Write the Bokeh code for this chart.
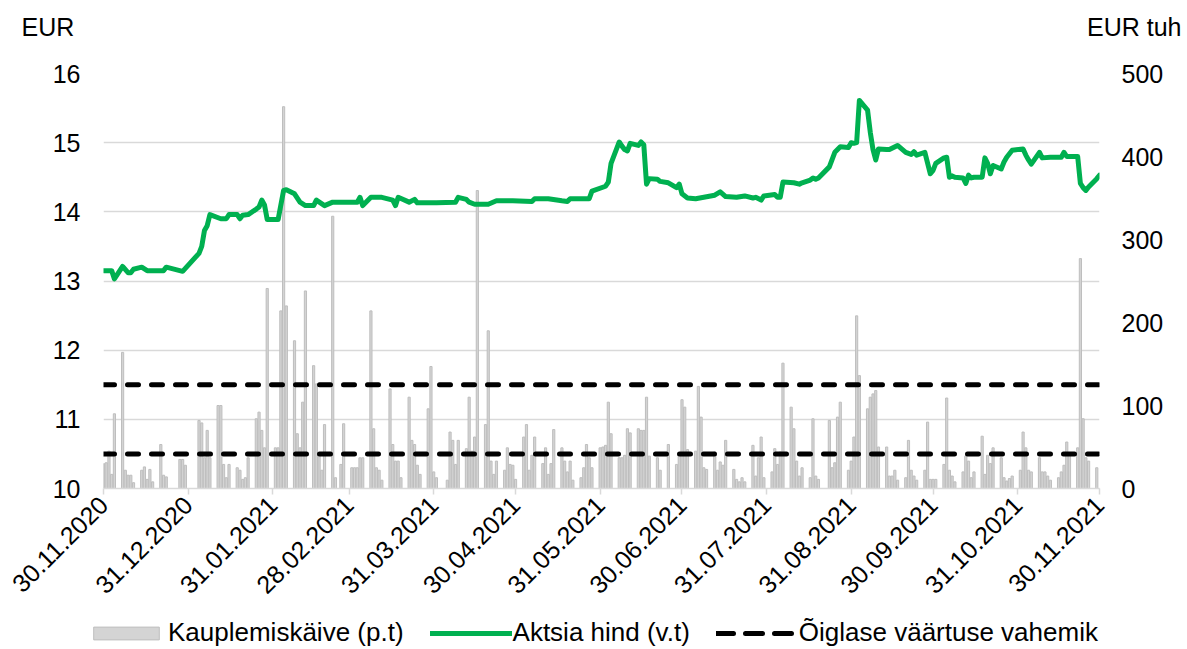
import math
import pandas as pd
from bokeh.plotting import figure
from bokeh.layouts import column
from bokeh.models import (Range1d, LinearAxis, FixedTicker, DatetimeTickFormatter,
                          Legend, LegendItem, Label, ColumnDataSource, Plot)
from bokeh.embed import file_html
from bokeh.resources import INLINE

# ---------------- data ----------------
tick_labels = ["30.11.2020", "31.12.2020", "31.01.2021", "28.02.2021", "31.03.2021",
               "30.04.2021", "31.05.2021", "30.06.2021", "31.07.2021", "31.08.2021",
               "30.09.2021", "31.10.2021", "30.11.2021"]
left_ticks = [10, 11, 12, 13, 14, 15, 16]
right_ticks = [0, 100, 200, 300, 400, 500]
left_unit = "EUR"
right_unit = "EUR tuh"
series_names = ["Kauplemiskäive (p.t)", "Aktsia hind (v.t)", "Õiglase väärtuse vahemik"]

fair_value_low = 10.5
fair_value_high = 11.5

price_dates = [
    "2020-11-30", "2020-12-03", "2020-12-04", "2020-12-07", "2020-12-09", "2020-12-10",
    "2020-12-11", "2020-12-14", "2020-12-16", "2020-12-22", "2020-12-23", "2020-12-29",
    "2021-01-04", "2021-01-05", "2021-01-06", "2021-01-07", "2021-01-08", "2021-01-12",
    "2021-01-14", "2021-01-15", "2021-01-18", "2021-01-19", "2021-01-20", "2021-01-22",
    "2021-01-25", "2021-01-26", "2021-01-27", "2021-01-28", "2021-01-29", "2021-02-02",
    "2021-02-04", "2021-02-05", "2021-02-08", "2021-02-10", "2021-02-12", "2021-02-15",
    "2021-02-16", "2021-02-19", "2021-02-22", "2021-03-03", "2021-03-04", "2021-03-05",
    "2021-03-08", "2021-03-12", "2021-03-16", "2021-03-17", "2021-03-18", "2021-03-22",
    "2021-03-24", "2021-03-25", "2021-04-01", "2021-04-08", "2021-04-09", "2021-04-12",
    "2021-04-13", "2021-04-15", "2021-04-20", "2021-04-23", "2021-04-29", "2021-05-06",
    "2021-05-07", "2021-05-12", "2021-05-17", "2021-05-19", "2021-05-20", "2021-05-27",
    "2021-05-28", "2021-06-02", "2021-06-03", "2021-06-04", "2021-06-07", "2021-06-08",
    "2021-06-09", "2021-06-10", "2021-06-11", "2021-06-14", "2021-06-15", "2021-06-16",
    "2021-06-17", "2021-06-18", "2021-06-21", "2021-06-22", "2021-06-25", "2021-06-28",
    "2021-06-29", "2021-06-30", "2021-07-02", "2021-07-05", "2021-07-08", "2021-07-12",
    "2021-07-14", "2021-07-16", "2021-07-20", "2021-07-23", "2021-07-26", "2021-07-27",
    "2021-07-29", "2021-07-30", "2021-08-03", "2021-08-04", "2021-08-05", "2021-08-06",
    "2021-08-10", "2021-08-12", "2021-08-13", "2021-08-16", "2021-08-17", "2021-08-18",
    "2021-08-19", "2021-08-23", "2021-08-25", "2021-08-26", "2021-08-27", "2021-08-30",
    "2021-08-31", "2021-09-01", "2021-09-02", "2021-09-03", "2021-09-06", "2021-09-07",
    "2021-09-08", "2021-09-09", "2021-09-10", "2021-09-13", "2021-09-14", "2021-09-17",
    "2021-09-20", "2021-09-22", "2021-09-23", "2021-09-24", "2021-09-27", "2021-09-29",
    "2021-09-30", "2021-10-01", "2021-10-04", "2021-10-05", "2021-10-06", "2021-10-07",
    "2021-10-08", "2021-10-11", "2021-10-12", "2021-10-13", "2021-10-14", "2021-10-15",
    "2021-10-18", "2021-10-19", "2021-10-20", "2021-10-21", "2021-10-22", "2021-10-25",
    "2021-10-26", "2021-10-27", "2021-10-29", "2021-11-02", "2021-11-03", "2021-11-04",
    "2021-11-05", "2021-11-08", "2021-11-09", "2021-11-12", "2021-11-15", "2021-11-16",
    "2021-11-17", "2021-11-18", "2021-11-22", "2021-11-23", "2021-11-24", "2021-11-25",
    "2021-11-26", "2021-11-29", "2021-11-30",
]
price_values = [
    13.15, 13.15, 13.03, 13.21, 13.12, 13.12,
    13.17, 13.20, 13.15, 13.15, 13.20, 13.14,
    13.40, 13.50, 13.73, 13.80, 13.96, 13.90,
    13.90, 13.96, 13.96, 13.90, 13.95, 13.96,
    14.04, 14.07, 14.17, 14.10, 13.89, 13.89,
    14.31, 14.32, 14.26, 14.14, 14.09, 14.09,
    14.17, 14.09, 14.14, 14.14, 14.21, 14.09,
    14.21, 14.21, 14.17, 14.09, 14.21, 14.14,
    14.18, 14.13, 14.13, 14.14, 14.21, 14.18,
    14.14, 14.11, 14.11, 14.16, 14.16, 14.15,
    14.19, 14.19, 14.16, 14.15, 14.19, 14.19,
    14.30, 14.37, 14.43, 14.70, 15.01, 14.95,
    14.90, 14.88, 14.99, 14.96, 15.01, 14.97,
    14.40, 14.48, 14.47, 14.44, 14.42, 14.35,
    14.40, 14.26, 14.20, 14.19, 14.21, 14.24,
    14.29, 14.22, 14.21, 14.23, 14.20, 14.21,
    14.17, 14.23, 14.25, 14.21, 14.21, 14.43,
    14.42, 14.40, 14.42, 14.46, 14.49, 14.47,
    14.49, 14.65, 14.86, 14.90, 14.94, 14.93,
    15.00, 14.99, 15.00, 15.61, 15.47, 15.15,
    14.90, 14.75, 14.91, 14.90, 14.90, 14.96,
    14.86, 14.83, 14.87, 14.82, 14.86, 14.55,
    14.60, 14.70, 14.78, 14.79, 14.50, 14.52,
    14.50, 14.49, 14.41, 14.53, 14.49, 14.50,
    14.50, 14.78, 14.70, 14.55, 14.67, 14.62,
    14.72, 14.79, 14.89, 14.91, 14.82, 14.75,
    14.69, 14.86, 14.78, 14.79, 14.79, 14.79,
    14.86, 14.80, 14.80, 14.41, 14.35, 14.31,
    14.36, 14.48, 14.53,
]

# trading volume, EUR thousand, one value per trading day of each month
vol_2020_11 = [30]
vol_2020_12 = [31, 45, 17, 90, 164, 22, 16, 16, 7, 22, 26, 11, 23, 8, 53, 16, 14, 35, 35, 28]
vol_2021_01 = [82, 79, 37, 70, 37, 100, 100, 29, 13, 29, 25, 22, 11, 13, 37, 84, 92, 70, 49, 241]
vol_2021_02 = [49, 49, 214, 460, 220, 178, 66, 49, 104, 238, 148, 126, 42, 22, 77, 328, 13, 29, 78]
vol_2021_03 = [25, 25, 25, 37, 37, 214, 72, 25, 22, 10, 120, 53, 33, 33, 13, 110, 58, 53, 28, 17,
               96, 147, 20]
vol_2021_04 = [13, 10, 68, 58, 29, 58, 48, 110, 45, 62, 359, 77, 190, 33, 17, 33, 22, 49, 29, 28, 11]
vol_2021_05 = [62, 77, 22, 40, 62, 30, 49, 17, 30, 71, 49, 33, 20, 33, 10, 13, 25, 53, 37, 25, 49]
vol_2021_06 = [50, 52, 104, 66, 37, 37, 40, 72, 67, 72, 70, 70, 110, 39, 37, 22, 53, 29, 42, 107]
vol_2021_07 = [98, 47, 45, 123, 86, 25, 23, 44, 22, 32, 28, 58, 23, 11, 8, 13, 8, 52, 15, 37, 62, 13]
vol_2021_08 = [20, 48, 29, 44, 151, 98, 72, 33, 15, 25, 13, 84, 15, 11, 82, 25, 31, 86, 104, 22, 33]
vol_2021_09 = [62, 208, 136, 96, 110, 114, 118, 50, 50, 15, 15, 22, 10, 13, 58, 22, 15, 10, 22, 80,
               11, 11]
vol_2021_10 = [11, 29, 109, 22, 15, 8, 20, 39, 33, 13, 20, 63, 17, 40, 30, 49, 37, 13, 9, 12, 15]
vol_2021_11 = [22, 68, 49, 22, 20, 37, 20, 20, 15, 10, 13, 20, 28, 56, 42, 49, 277, 84, 37, 33, 25, 0]

exchange_holidays = ["2020-12-24", "2020-12-25", "2020-12-31", "2021-01-01", "2021-02-24",
                     "2021-04-02", "2021-06-23", "2021-06-24", "2021-08-20"]

# ---------------- build sources ----------------
monthly = {(2020, 11): vol_2020_11, (2020, 12): vol_2020_12, (2021, 1): vol_2021_01,
           (2021, 2): vol_2021_02, (2021, 3): vol_2021_03, (2021, 4): vol_2021_04,
           (2021, 5): vol_2021_05, (2021, 6): vol_2021_06, (2021, 7): vol_2021_07,
           (2021, 8): vol_2021_08, (2021, 9): vol_2021_09, (2021, 10): vol_2021_10,
           (2021, 11): vol_2021_11}

tick_dates = pd.to_datetime(tick_labels, format="%d.%m.%Y")
days = pd.bdate_range(tick_dates[0], tick_dates[-1])
days = days[~days.isin(pd.to_datetime(exchange_holidays))]
vol_x, vol_top = [], []
for (yr, mo), vals in monthly.items():
    md = [d for d in days if d.year == yr and d.month == mo]
    for d, v in zip(md, vals):
        vol_x.append(d)
        vol_top.append(v)
vol_src = ColumnDataSource(dict(x=vol_x, top=vol_top))
price_src = ColumnDataSource(dict(x=pd.to_datetime(price_dates), y=price_values))
x0 = tick_dates[0]
x1 = tick_dates[-1]
hi_src = ColumnDataSource(dict(x=[x0, x1], y=[fair_value_high, fair_value_high]))
lo_src = ColumnDataSource(dict(x=[x0, x1], y=[fair_value_low, fair_value_low]))

# ---------------- styles ----------------
FONT = "Liberation Sans"
FS = "25px"
LEG_FS = "26px"
GRID = "#D9D9D9"
DAY_MS = 86400000.0
W = 1187
TOP_H = 46
LEG_H = 34
MAIN_H = 649 - TOP_H - LEG_H
HAS_FRAME_ALIGN = "frame_align" in Plot.properties()

BAR_STYLE = dict(fill_color="#D4D4D4", line_color="#BEBEBE", line_width=1)
PRICE_STYLE = dict(line_color="#00B050", line_width=5, line_join="round", line_cap="round")
DASH_STYLE = dict(line_color="black", line_width=5, line_dash="11 13", line_cap="round")
LEG_DASH_STYLE = dict(line_color="black", line_width=5, line_dash="17 12", line_cap="round")


def unalign(f):
    if HAS_FRAME_ALIGN:
        f.frame_align = False
    return f


def blank_fig(h):
    f = figure(width=W, height=h, output_backend="svg", toolbar_location=None,
               x_axis_location=None, y_axis_location=None, min_border=0,
               x_range=Range1d(0, 1), y_range=Range1d(0, 1))
    f.outline_line_color = None
    f.grid.visible = False
    return unalign(f)


# ---------------- unit captions row ----------------
top = blank_fig(TOP_H)
top.add_layout(Label(x=21, y=20, x_units="screen", y_units="screen", text=left_unit,
                     text_font=FONT, text_font_size=FS, text_color="black",
                     text_baseline="alphabetic", text_align="left"))
top.add_layout(Label(x=1181, y=20, x_units="screen", y_units="screen", text=right_unit,
                     text_font=FONT, text_font_size=FS, text_color="black",
                     text_baseline="alphabetic", text_align="right"))

# ---------------- main chart ----------------
p = figure(width=W, height=MAIN_H, x_axis_type="datetime", output_backend="svg",
           toolbar_location=None,
           x_range=Range1d(x0, x1), y_range=Range1d(10, 16),
           min_border_left=103, min_border_right=88, min_border_top=73 - TOP_H,
           min_border_bottom=MAIN_H - (488 - TOP_H))
unalign(p)
p.outline_line_color = None
p.extra_y_ranges = {"vol": Range1d(0, 500)}

p.vbar(x="x", top="top", bottom=0, width=0.8 * DAY_MS, source=vol_src,
       y_range_name="vol", **BAR_STYLE)
p.line(x="x", y="y", source=hi_src, **DASH_STYLE)
p.line(x="x", y="y", source=lo_src, **DASH_STYLE)
p.line(x="x", y="y", source=price_src, **PRICE_STYLE)

p.xgrid.visible = False
p.ygrid.ticker = FixedTicker(ticks=left_ticks)
p.ygrid.grid_line_color = GRID
p.ygrid.grid_line_width = 1.5

la = p.yaxis[0]
la.ticker = FixedTicker(ticks=left_ticks)
la.axis_line_color = None
la.major_tick_line_color = None
la.minor_tick_line_color = None
la.major_label_standoff = 17
la.major_label_text_font = FONT
la.major_label_text_font_size = FS
la.major_label_text_color = "black"

ra = LinearAxis(y_range_name="vol", ticker=FixedTicker(ticks=right_ticks))
ra.axis_line_color = None
ra.major_tick_line_color = None
ra.minor_tick_line_color = None
ra.major_label_standoff = 16
ra.major_label_text_font = FONT
ra.major_label_text_font_size = FS
ra.major_label_text_color = "black"
p.add_layout(ra, "right")

xa = p.xaxis[0]
xa.ticker = FixedTicker(ticks=[d.value / 1e6 for d in tick_dates])
fmt = "%d.%m.%Y"
xa.formatter = DatetimeTickFormatter(microseconds=fmt, milliseconds=fmt, seconds=fmt,
                                     minsec=fmt, minutes=fmt, hourmin=fmt, hours=fmt,
                                     days=fmt, months=fmt, years=fmt)
xa.major_label_orientation = math.pi / 4
xa.axis_line_color = GRID
xa.axis_line_width = 1.5
xa.major_tick_line_color = GRID
xa.major_tick_line_width = 1.5
xa.major_tick_out = 6
xa.major_tick_in = 0
xa.minor_tick_line_color = None
xa.major_label_standoff = 6
xa.major_label_text_font = FONT
xa.major_label_text_font_size = FS
xa.major_label_text_color = "black"

# ---------------- legend row (same series, outside this row's view) ----------------
lg = blank_fig(LEG_H)
r_bar = lg.vbar(x="x", top="top", bottom=0, width=0.8 * DAY_MS, source=vol_src, **BAR_STYLE)
r_price = lg.line(x="x", y="y", source=price_src, **PRICE_STYLE)
r_dash = lg.line(x="x", y="y", source=hi_src, **LEG_DASH_STYLE)
legend = Legend(items=[LegendItem(label=series_names[0], renderers=[r_bar], index=0),
                       LegendItem(label=series_names[1], renderers=[r_price], index=0),
                       LegendItem(label=series_names[2], renderers=[r_dash], index=0)],
                orientation="horizontal", location=(85, 1),
                glyph_width=82, glyph_height=16, label_standoff=1, spacing=26,
                padding=0, margin=0, border_line_color=None, background_fill_alpha=0,
                label_text_font=FONT, label_text_font_size=LEG_FS, label_text_color="black")
lg.add_layout(legend)

layout = column(top, p, lg, spacing=0)
open("out.html", "w").write(file_html(layout, INLINE))
